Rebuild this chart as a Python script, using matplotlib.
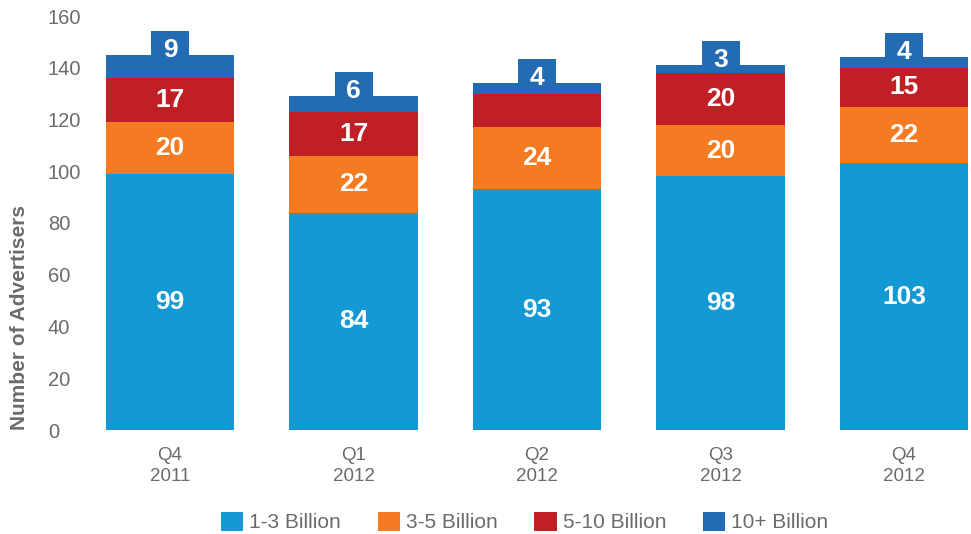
import matplotlib
matplotlib.use('Agg')
import matplotlib.pyplot as plt
import numpy as np

plt.rcParams['font.family'] = ['Liberation Sans', 'DejaVu Sans']

quarters = ["Q4\n2011", "Q1\n2012", "Q2\n2012", "Q3\n2012", "Q4\n2012"]
series_names = ["1-3 Billion", "3-5 Billion", "5-10 Billion", "10+ Billion"]
b1_3 = [99, 84, 93, 98, 103]
b3_5 = [20, 22, 24, 20, 22]
b5_10 = [17, 17, 13, 20, 15]
b10_plus = [9, 6, 4, 3, 4]
colors = ["#1399d3", "#f47b22", "#c11f26", "#236cb4"]
gray = "#6b6b6b"

fig = plt.figure(figsize=(9.71, 5.34), dpi=100)
ax = fig.add_axes([95 / 971, 104 / 534, 876 / 971, 414 / 534])

x = np.arange(len(quarters))
width = 0.7
bottom = np.zeros(len(quarters))
series = [b1_3, b3_5, b5_10, b10_plus]
for vals, col, name in zip(series, colors, series_names):
    vals = np.array(vals, dtype=float)
    ax.bar(x, vals, width=width, bottom=bottom, color=col, label=name, zorder=2)
    if name != "10+ Billion":
        for xi, v, b in zip(x, vals, bottom):
            # thin segments don't get a label (Q2 5-10 Billion)
            if v >= 14:
                ax.text(xi, b + v / 2, f"{int(v)}", ha='center', va='center',
                        color='white', fontsize=19, fontweight='bold', zorder=4)
        bottom += vals
    else:
        # top segment: label sits in a small tab above the bar
        totals = bottom + vals
        label_y = totals + 2
        tab_top = label_y + 7.3
        ax.bar(x, tab_top - bottom, width=0.207, bottom=bottom, color=col, zorder=3)
        for xi, v, ly in zip(x, vals, label_y):
            ax.text(xi, ly, f"{int(v)}", ha='center', va='center',
                    color='white', fontsize=19, fontweight='bold', zorder=4)

ax.set_xlim(-0.409, 4.365)
ax.set_ylim(0, 160)
ax.set_yticks(range(0, 161, 20))
ax.set_xticks(x)
ax.set_xticklabels(quarters, color=gray, fontsize=13.5, linespacing=1.35)
ax.tick_params(axis='both', length=0)
ax.tick_params(axis='x', pad=12)
ax.tick_params(axis='y', pad=34, labelsize=14.5, labelcolor=gray)
for lbl in ax.get_yticklabels():
    lbl.set_ha('left')
for s in ax.spines.values():
    s.set_visible(False)

fig.text(20 / 971, 1 - 318 / 534, "Number of Advertisers", rotation=90,
         ha='center', va='center', color=gray, fontsize=15, fontweight='bold')

handles, labels = ax.get_legend_handles_labels()
leg = fig.legend(handles, labels, loc='center', bbox_to_anchor=(524.5 / 971, 12 / 534),
                 ncol=4, frameon=False, fontsize=15, handlelength=1.06,
                 handleheight=1.06, handletextpad=0.29, columnspacing=1.78)
for t in leg.get_texts():
    t.set_color(gray)

plt.savefig("out.png", dpi=100)
plt.close()
